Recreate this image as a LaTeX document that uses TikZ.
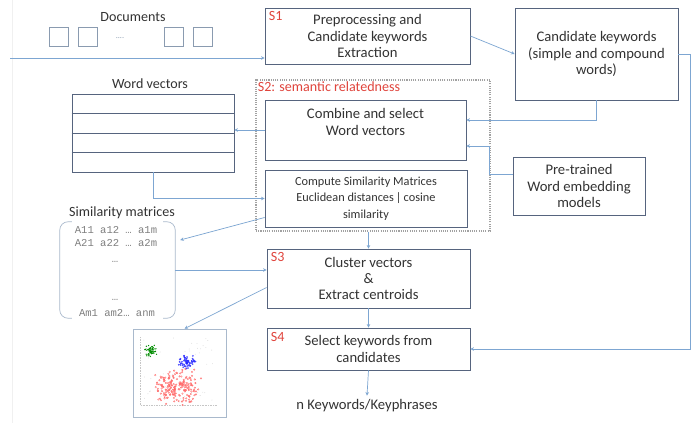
\documentclass[tikz,border=0pt]{standalone}
\usepackage{fontspec}
\setmainfont{Carlito}
\newfontfamily\matfont{Liberation Mono}
\usetikzlibrary{arrows.meta,calc,positioning}

\definecolor{boxline}{HTML}{56647E}
\definecolor{linkblue}{HTML}{7DA6D2}
\definecolor{docgray}{HTML}{8A9BB0}
\definecolor{tagred}{HTML}{E0443C}
\definecolor{txt}{HTML}{333333}
\definecolor{dotgray}{HTML}{8A8A8A}
\definecolor{matline}{HTML}{A9B9CC}

\begin{document}
\begin{tikzpicture}[x=0.03cm,y=-0.03cm,
	every node/.style={text=txt,font=\fontsize{12.5}{14}\selectfont},
	stage/.style 2 args={draw=boxline,line width=0.7pt,minimum width=#1*0.03cm,minimum height=#2*0.03cm,align=center,inner sep=1pt},
	tag/.style={text=tagred,anchor=north west,inner sep=1pt,font=\fontsize{12}{13}\selectfont},
	head/.style={font=\fontsize{12}{14}\selectfont},
	mat/.style={text=gray,font=\matfont\fontsize{9}{10}\selectfont,inner sep=0pt},
	link/.style={draw=linkblue,line width=0.6pt,-{Stealth[length=3pt,width=3pt]}},
	docbox/.style={draw=docgray,line width=0.7pt,minimum size=19*0.03cm,inner sep=0pt}]
	\useasboundingbox (0,0) rectangle (696,425);
	\fill[white] (0,0) rectangle (696,425);
	\draw[gray!12,line width=0.8pt] (12,0) -- (12,423);

	% input documents
	\node[head] (docs) at (133,17) {Documents};
	\foreach \x/\n in {59/d1,87.5/d2,174/d3,202.5/d4}
		\node[docbox] (\n) at (\x,37) {};
	\node[text=docgray,font=\fontsize{7}{8}\selectfont] (ddots) at (120,38) {....};
	\coordinate (docin) at (10,58);

	% processing steps
	\node[stage={205}{56}] (s1) at (367.5,36) {Preprocessing and\\Candidate keywords\\Extraction};
	\node[tag] (s1tag) at ($(s1.north west)+(3,2)$) {S1};
	\node[stage={163}{92}] (cand) at (596.5,54) {Candidate keywords\\(simple and compound\\words)};
	\node[draw=dotgray!80,densely dotted,line width=0.9pt,minimum width=234*0.03cm,minimum height=151*0.03cm] (s2) at (373,155.5) {};
	\node[tag] (s2tag) at ($(s2.north west)+(1,1)$) {S2: semantic relatedness};
	\node[stage={201}{60}] (comb) at (365.5,130) {Combine and select\\Word vectors\\\mbox{}};
	\node[stage={202}{57},font=\fontsize{10.5}{14}\selectfont] (comp) at (366,198.5) {Compute Similarity Matrices\\Euclidean distances\,|\,cosine\\similarity};
	\node[stage={132}{58}] (pre) at (579,186) {Pre-trained\\Word embedding\\models};
	\node[stage={203}{59}] (s3) at (368.5,278.5) {Cluster vectors\\\&\\Extract centroids};
	\node[tag] (s3tag) at ($(s3.north west)+(3,2)$) {S3};
	\node[stage={203}{42}] (s4) at (368.5,349) {Select keywords from\\candidates};
	\node[tag] (s4tag) at ($(s4.north west)+(3,3)$) {S4};
	\node (out) at (367,406) {n Keywords/Keyphrases};

	% word vectors table
	\node[head] (wvhead) at (150,84) {Word vectors};
	\node[draw=boxline,line width=0.7pt,minimum width=162*0.03cm,minimum height=78*0.03cm] (wv) at (153,133) {};
	\foreach \r in {1,2,3}
		\draw[boxline,line width=0.7pt] ($(wv.north west)!\r/4!(wv.south west)$) -- ($(wv.north east)!\r/4!(wv.south east)$);

	% similarity matrix
	\node[head] (smhead) at (122,213) {Similarity matrices};
	\node[minimum width=115*0.03cm,minimum height=96*0.03cm] (sm) at (117.5,270) {};
	\draw[matline,line width=0.6pt,rounded corners=7pt] ($(sm.north west)+(12,0)$) -- (sm.north west) -- (sm.south west) -- ($(sm.south west)+(12,0)$);
	\draw[matline,line width=0.6pt,rounded corners=7pt] ($(sm.north east)+(-12,0)$) -- (sm.north east) -- (sm.south east) -- ($(sm.south east)+(-12,0)$);
	\node[mat] (r1) at (116,230) {A11 a12 … a1m};
	\node[mat] (r2) at (116,243) {A21 a22 … a2m};
	\node[mat] (r3) at (115,262) {…};
	\node[mat] (r4) at (115,300) {…};
	\node[mat] (r5) at (117,313) {Am1 am2… anm};

	% cluster plot
	\node[draw=matline,line width=0.5pt,minimum width=93*0.03cm,minimum height=88*0.03cm] (clu) at (179.5,373) {};
	\draw[gray!45,densely dotted,line width=0.4pt] (140,337) -- (140,405) -- (217,405);
	\pgfmathsetseed{12}
	\foreach \i in {1,...,50}
		\fill[gray!35] ({141+74*rnd},{337+66*rnd}) circle (0.35pt);
	\foreach \i in {1,...,200}
		\draw[red!60,line width=0.25pt] ({177+13*(rand+rand)},{387+10*(rand+rand)}) circle (0.7pt);
	\foreach \i in {1,...,60}
		\draw[blue!85,line width=0.25pt] ({187+4.5*(rand+rand)},{362+3.5*(rand+rand)}) circle (0.6pt);
	\foreach \i in {1,...,60}
		\fill[green!55!black] ({150+3.5*(rand+rand)},{351+3*(rand+rand)}) circle (0.6pt);

	% connectors
	\draw[link] (docin) -- (docin -| s1.west);
	\draw[link] (s1.east) -- (cand.west);
	\draw[link] (cand.south) |- ($(comb.east)+(0,-10)$);
	\draw[link] (cand.east) -- ++(12,0) |- (s4.east);
	\draw[link] ($(pre.west)+(0,-12)$) -- ++(-23,0) |- ($(comb.east)+(0,16)$);
	\draw[link] (comb.west) -- (comb.west -| wv.east);
	\draw[link] (wv.south) |- (comp.west);
	\draw[link] ($(comp.west)+(0,19)$) -- ($(sm.east)+(5,-30)$);
	\draw[link] (sm.east) -- (sm.east -| s3.west);
	\draw[link] ($(s3.west)+(0,9)$) -- ($(clu.north)+(5,0)$);
	\draw[link] (s3.north |- s2.south) -- (s3.north);
	\draw[link] (s3.south) -- (s4.north);
	\draw[link] (s4.south) -- (out.north);
\end{tikzpicture}
\end{document}
